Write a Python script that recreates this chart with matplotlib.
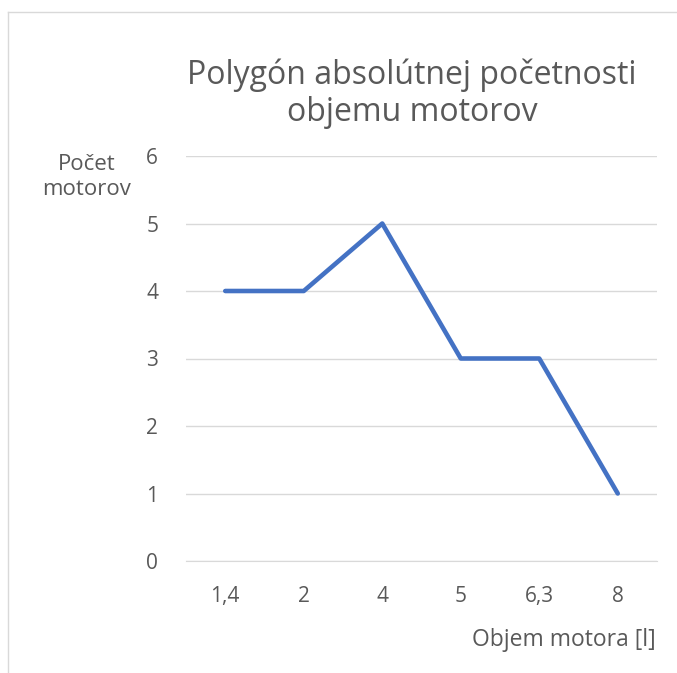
import matplotlib
matplotlib.use("Agg")
import matplotlib.pyplot as plt
from matplotlib.lines import Line2D

# data
objem = ["1,4", "2", "4", "5", "6,3", "8"]
pocet = [4, 4, 5, 3, 3, 1]

plt.rcParams['font.family'] = ['Open Sans', 'DejaVu Sans']
text_col = "#595959"
grid_col = "#d9d9d9"

fig = plt.figure(figsize=(6.77, 6.73), dpi=100)
ax = fig.add_axes([186 / 677, 1 - 561 / 673, 471 / 677, 405 / 673])

x = list(range(len(objem)))
ax.plot(x, pocet, color="#4472C4", linewidth=3.3, solid_joinstyle="round", solid_capstyle="round")

ax.set_xlim(-0.5, len(objem) - 0.5)
ax.set_ylim(0, 6)
ax.set_yticks(range(0, 7))
ax.set_xticks(x)
ax.set_xticklabels(objem)
ax.grid(axis="y", color=grid_col, linewidth=1)
ax.set_axisbelow(True)
for s in ["top", "right", "left"]:
    ax.spines[s].set_visible(False)
ax.spines["bottom"].set_color(grid_col)
ax.tick_params(length=0, labelsize=15, colors=text_col)
ax.tick_params(axis="y", pad=20)
ax.tick_params(axis="x", pad=18)

fig.text(412 / 677, 1 - 94 / 673, "Polygón absolútnej početnosti\nobjemu motorov",
         ha="center", va="center", fontsize=23, color=text_col, linespacing=1.14)
fig.text(87 / 677, 1 - 177 / 673, "Počet\nmotorov", ha="center", va="center",
         fontsize=16, color=text_col, linespacing=1.3)
fig.text(656 / 677, 1 - 640 / 673, "Objem motora [l]", ha="right", va="center",
         fontsize=16.5, color=text_col)

# chart border (only left and top visible)
bx, by = 8 / 677, 1 - 11.5 / 673
fig.add_artist(Line2D([bx, bx], [0, by], color=grid_col, linewidth=1, transform=fig.transFigure))
fig.add_artist(Line2D([bx, 1], [by, by], color=grid_col, linewidth=1, transform=fig.transFigure))

fig.savefig("out.png", dpi=100)
